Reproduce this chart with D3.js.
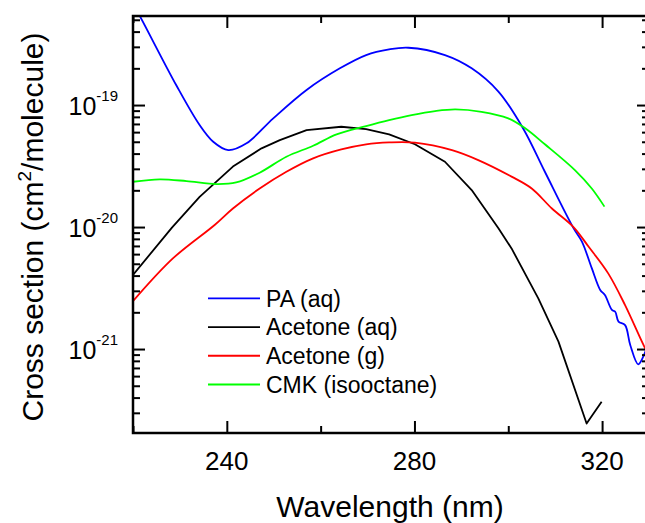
<!DOCTYPE html>
<html>
<head>
<meta charset="utf-8">
<script src="https://cdn.jsdelivr.net/npm/d3@7"></script>
<style>
  body { margin: 0; background: #fff; }
  svg { display: block; font-family: "Liberation Sans", Arial, sans-serif; }
</style>
</head>
<body>
<svg width="645" height="523"></svg>
<script>
// wavelength (nm) and cross section (cm2/molecule)
var paWl   = [220, 221.3, 229.2, 234.2, 237.1, 240.3, 244.2, 249.9, 257.0, 264.1, 269.7, 274.6, 278.7, 286.5, 292.2, 297.9, 303.2, 307.8, 313.9, 315.7, 317.8, 319.6, 320.6, 322.1, 322.8, 323.5, 324.9, 326.0, 327.7, 328.8, 329.6];
var paXs   = [6.7e-19, 5.5e-19, 1.46e-19, 6.86e-20, 5.0e-20, 4.27e-20, 4.86e-20, 7.78e-20, 1.33e-19, 2.0e-19, 2.57e-19, 2.86e-19, 2.95e-19, 2.57e-19, 2.0e-19, 1.29e-19, 6.4e-20, 2.84e-20, 9.8e-21, 7.6e-21, 4.6e-21, 3.05e-21, 2.77e-21, 2.09e-21, 2.02e-21, 1.68e-21, 1.57e-21, 1.08e-21, 7.5e-22, 8.7e-22, 1.05e-21];

var acAqWl = [220, 228.3, 234.2, 241.3, 247.4, 251.3, 257.0, 264.4, 269.7, 274.6, 280.1, 286.5, 292.2, 297.9, 300.7, 306.4, 310.7, 316.7, 319.9];
var acAqXs = [4.05e-21, 9.9e-21, 1.77e-20, 3.13e-20, 4.42e-20, 5.16e-20, 6.24e-20, 6.64e-20, 6.35e-20, 5.75e-20, 4.77e-20, 3.43e-20, 2.01e-20, 9.77e-21, 6.68e-21, 2.6e-21, 1.15e-21, 2.45e-22, 3.7e-22];

var acGWl  = [220, 228.5, 237.4, 241.3, 247.0, 252.7, 258.4, 264.4, 269.7, 274.6, 280.1, 288.0, 293.6, 300.7, 305.0, 309.3, 313.9, 317.1, 321.3, 324.9, 329.2, 330];
var acGXs  = [2.47e-21, 5.53e-21, 1.04e-20, 1.42e-20, 2.07e-20, 2.84e-20, 3.66e-20, 4.33e-20, 4.77e-20, 4.94e-20, 4.92e-20, 4.27e-20, 3.54e-20, 2.59e-20, 2.07e-20, 1.42e-20, 1.0e-20, 6.92e-21, 4.17e-21, 2.29e-21, 1.01e-21, 9.0e-22];

var cmkWl  = [220, 225.7, 231.4, 237.8, 242.0, 247.0, 252.7, 258.4, 263.4, 269.7, 274.6, 279.4, 284.4, 288.7, 294.3, 300.0, 303.6, 307.8, 314.2, 317.8, 320.5];
var cmkXs  = [2.35e-20, 2.46e-20, 2.38e-20, 2.25e-20, 2.32e-20, 2.79e-20, 3.77e-20, 4.64e-20, 5.75e-20, 6.73e-20, 7.53e-20, 8.28e-20, 8.93e-20, 9.22e-20, 8.81e-20, 7.78e-20, 6.45e-20, 4.77e-20, 2.93e-20, 2.07e-20, 1.47e-20];

var seriesNames  = ["PA (aq)", "Acetone (aq)", "Acetone (g)", "CMK (isooctane)"];
var seriesColors = ["#0000ff", "#000000", "#ff0000", "#00ff00"];

var xMajor = [240, 280, 320];
var xMinor = [220, 260, 300];
var yMajorExp = [-19, -20, -21];

var svg = d3.select("svg");
var pL = 133, pR = 649, pT = 16, pB = 433;

var x = d3.scaleLinear().domain([220, 330]).range([pL, pR]);
var y = d3.scaleLog().domain([2.05e-22, 5.37e-19]).range([pB, pT]);

var series = [
  {wl: paWl, xs: paXs, curve: d3.curveCatmullRom.alpha(0.5)},
  {wl: acAqWl, xs: acAqXs, curve: d3.curveLinear},
  {wl: acGWl, xs: acGXs, curve: d3.curveCatmullRom.alpha(0.5)},
  {wl: cmkWl, xs: cmkXs, curve: d3.curveCatmullRom.alpha(0.5)}
];

svg.append("clipPath").attr("id", "plotclip")
  .append("rect").attr("x", pL).attr("y", pT)
  .attr("width", pR - pL).attr("height", pB - pT);

svg.append("g").attr("clip-path", "url(#plotclip)")
  .selectAll("path")
  .data(series)
  .enter().append("path")
    .attr("fill", "none")
    .attr("stroke", (d, i) => seriesColors[i])
    .attr("stroke-width", 1.8)
    .attr("stroke-linejoin", "round")
    .attr("d", d => d3.line()
      .x(p => x(p[0]))
      .y(p => y(p[1]))
      .curve(d.curve)(d.wl.map((w, k) => [w, d.xs[k]])));

// minor log ticks
var yMinor = [];
[-22, -21, -20, -19].forEach(e => {
  for (var m = 2; m <= 9; m++) {
    var v = m * Math.pow(10, e);
    if (v >= y.domain()[0] && v <= y.domain()[1]) yMinor.push(v);
  }
});
var yMajor = yMajorExp.map(e => Math.pow(10, e));

function styleAxis(g) {
  g.select(".domain").remove();
  g.selectAll(".tick line").attr("stroke", "#000").attr("stroke-width", 2);
  g.selectAll(".tick text").remove();
}

svg.append("g").attr("transform", "translate(0," + pB + ")")
  .call(d3.axisBottom(x).tickValues(xMajor).tickSize(-12)).call(styleAxis);
svg.append("g").attr("transform", "translate(0," + pB + ")")
  .call(d3.axisBottom(x).tickValues(xMinor).tickSize(-7)).call(styleAxis);
svg.append("g").attr("transform", "translate(0," + pT + ")")
  .call(d3.axisTop(x).tickValues(xMajor).tickSize(-12)).call(styleAxis);
svg.append("g").attr("transform", "translate(0," + pT + ")")
  .call(d3.axisTop(x).tickValues(xMinor).tickSize(-7)).call(styleAxis);

svg.append("g").attr("transform", "translate(" + pL + ",0)")
  .call(d3.axisLeft(y).tickValues(yMajor).tickSize(-12)).call(styleAxis);
svg.append("g").attr("transform", "translate(" + pL + ",0)")
  .call(d3.axisLeft(y).tickValues(yMinor).tickSize(-7)).call(styleAxis);
svg.append("g").attr("transform", "translate(" + pR + ",0)")
  .call(d3.axisRight(y).tickValues(yMajor).tickSize(-12)).call(styleAxis);
svg.append("g").attr("transform", "translate(" + pR + ",0)")
  .call(d3.axisRight(y).tickValues(yMinor).tickSize(-7)).call(styleAxis);

// frame
svg.append("rect")
  .attr("x", pL).attr("y", pT)
  .attr("width", pR - pL).attr("height", pB - pT)
  .attr("fill", "none").attr("stroke", "#000").attr("stroke-width", 2.5);

// x tick labels
svg.append("g").selectAll("text")
  .data(xMajor)
  .enter().append("text")
    .attr("x", d => x(d))
    .attr("y", 470)
    .attr("text-anchor", "middle")
    .attr("font-size", 26)
    .text(d => d);

// y tick labels 10^n
var yl = svg.append("g").selectAll("text")
  .data(yMajorExp)
  .enter().append("text")
    .attr("x", 118)
    .attr("y", d => y(Math.pow(10, d)) + 10)
    .attr("text-anchor", "end")
    .attr("font-size", 25);
yl.append("tspan").text("10");
yl.append("tspan").attr("font-size", 15).attr("dy", -14).text(d => d);

// axis titles
svg.append("text")
  .attr("x", 390).attr("y", 517)
  .attr("text-anchor", "middle")
  .attr("font-size", 30)
  .text("Wavelength (nm)");

var yt = svg.append("text")
  .attr("transform", "translate(43,227) rotate(-90)")
  .attr("text-anchor", "middle")
  .attr("font-size", 30);
yt.append("tspan").text("Cross section (cm");
yt.append("tspan").attr("font-size", 19).attr("dy", -12).text("2");
yt.append("tspan").attr("dy", 12).text("/molecule)");

// legend
var legY = d3.scalePoint().domain(seriesNames).range([298.3, 384.5]);
var leg = svg.append("g").selectAll("g")
  .data(seriesNames)
  .enter().append("g")
    .attr("transform", d => "translate(0," + legY(d) + ")");
leg.append("line")
  .attr("x1", 208).attr("x2", 260)
  .attr("stroke", (d, i) => seriesColors[i])
  .attr("stroke-width", 1.8);
leg.append("text")
  .attr("x", 266).attr("y", 8.3)
  .attr("font-size", 23)
  .text(d => d);
</script>
</body>
</html>
